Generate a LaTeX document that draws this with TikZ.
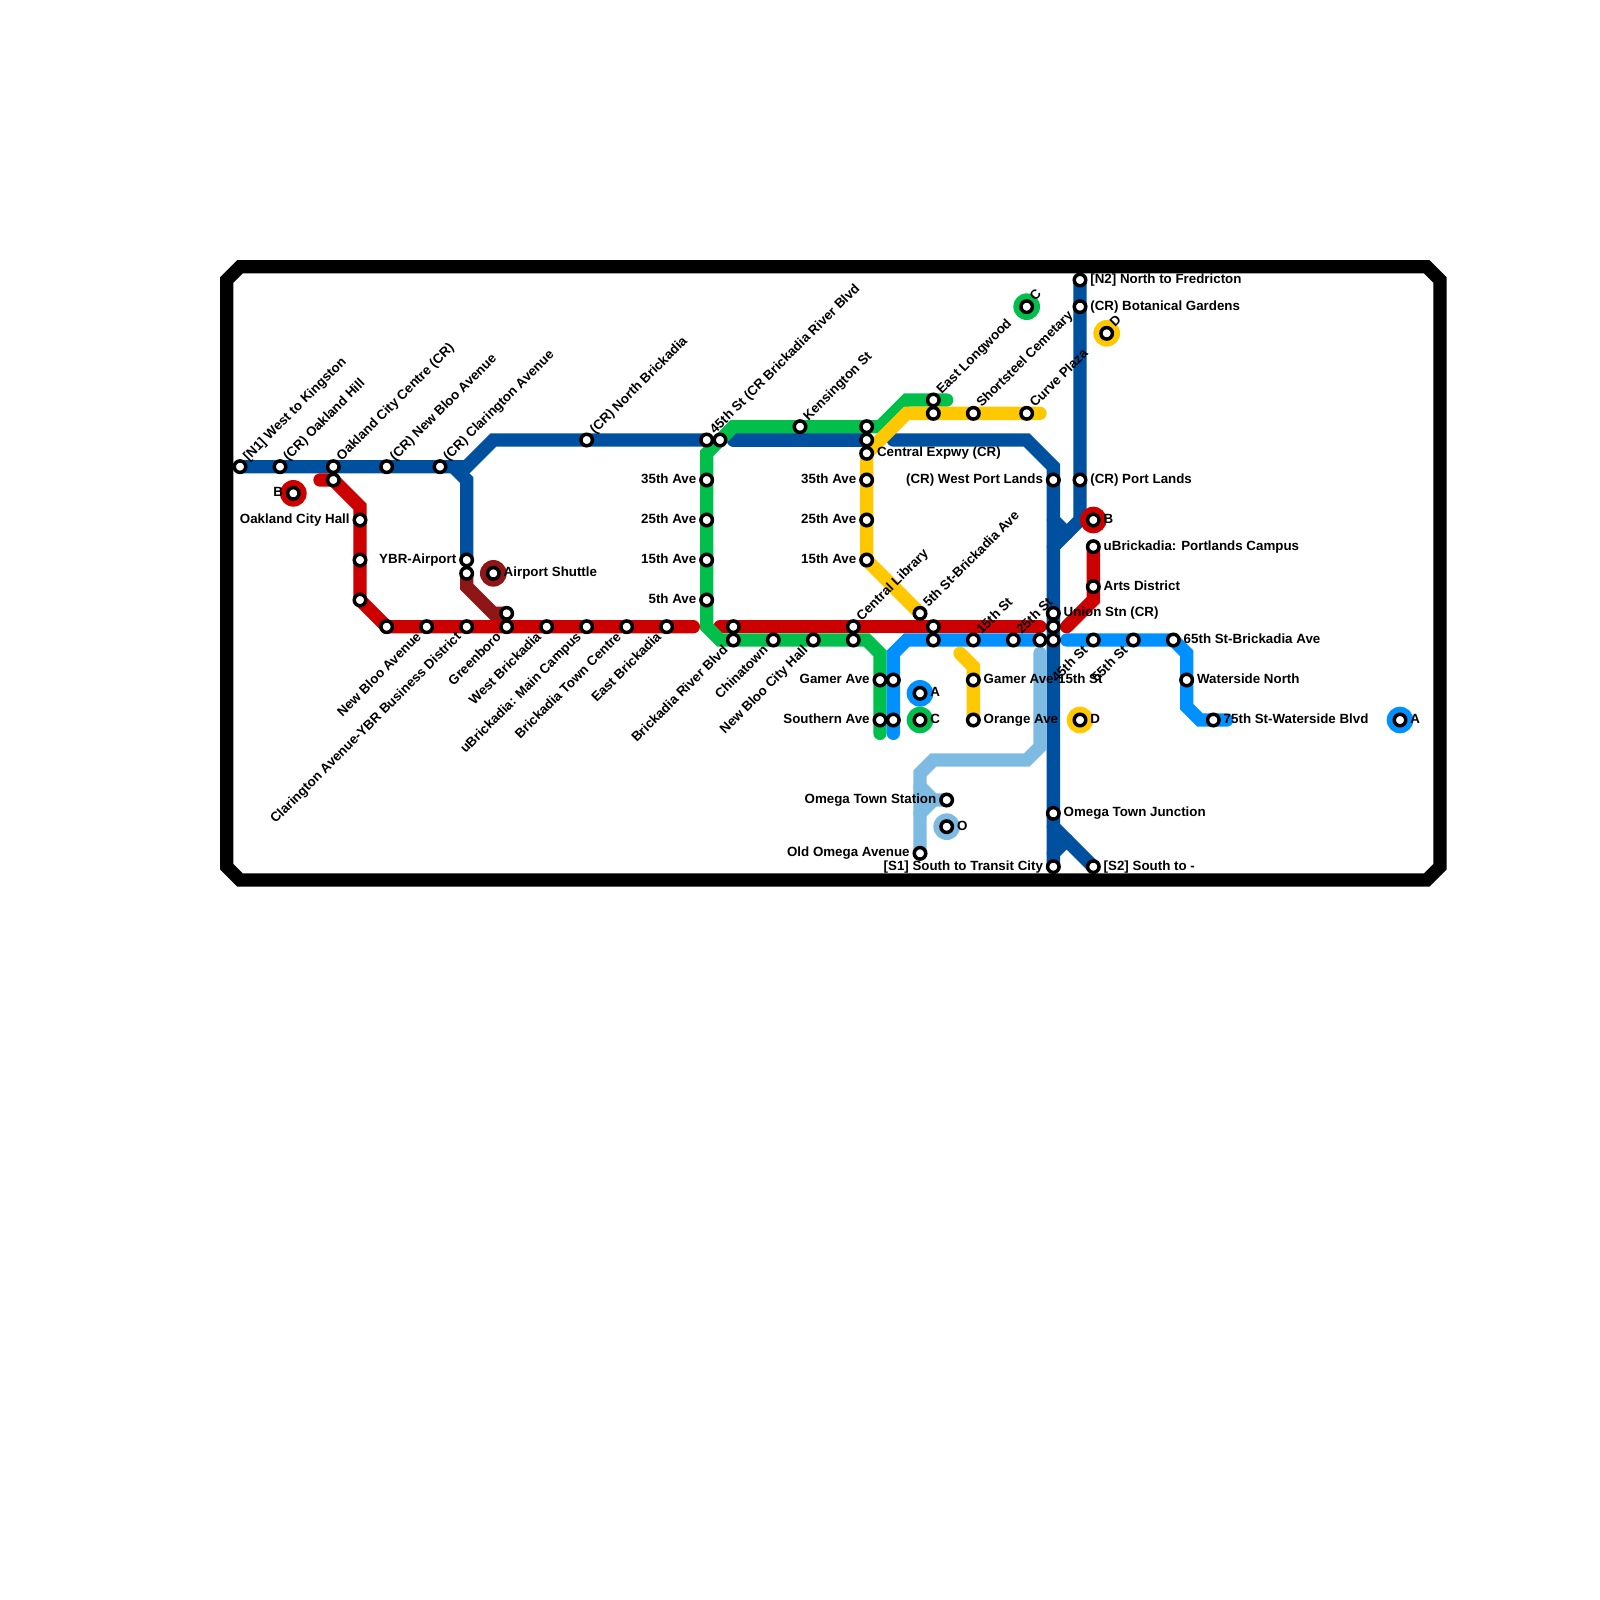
\documentclass[tikz,border=0pt]{standalone}
\usepackage{fontspec}
\setmainfont{Liberation Sans}[BoldFont={Liberation Sans Bold}]
\definecolor{cdb}{HTML}{0050A0}
\definecolor{cred}{HTML}{CC0000}
\definecolor{cdr}{HTML}{8F1616}
\definecolor{cgr}{HTML}{00C04B}
\definecolor{cye}{HTML}{FFC800}
\definecolor{cbb}{HTML}{0090FF}
\definecolor{clb}{HTML}{7DBBE2}
\pgfdeclarelayer{bg}
\pgfsetlayers{bg,main}
\tikzset{
  stn/.style={circle,draw=black,fill=white,line width=1.75pt,minimum size=5.75pt,inner sep=0pt},
  lbl/.style={inner sep=0pt,text height=5pt,text depth=1.5pt,font=\fontsize{6.667}{7.5}\selectfont\bfseries,text=black},
  rline/.style={line width=6.667pt,line cap=round},
  ring/.style={circle,minimum size=13.33pt,inner sep=0pt},
}
% station with no label
\newcommand\ST[2]{\node[stn] (#1) at (#2) {};}
% right, left, up-right, down-left labels
\newcommand\LR[3]{\ST{#1}{#2}\node[lbl,anchor=west,xshift=5pt] (#1l) at (#2) {#3};}
\newcommand\LL[3]{\ST{#1}{#2}\node[lbl,anchor=east,xshift=-5pt] (#1l) at (#2) {#3};}
\newcommand\LU[3]{\ST{#1}{#2}\node[lbl,xshift=2.9pt,yshift=3.8pt,rotate=45,anchor=west] (#1l) at (#2) {#3};}
\newcommand\LD[3]{\ST{#1}{#2}\node[lbl,xshift=-3.5pt,yshift=-4.2pt,rotate=45,anchor=east] (#1l) at (#2) {#3};}
\newcommand\RG[3]{\node[ring,fill=#3] (#1r) at (#2) {};}
\begin{document}
\begin{tikzpicture}[x=6.6667pt,y=-6.6667pt]
\useasboundingbox (0,0) rectangle (120,120);
% stations
\LU{a1}{18,35}{[N1] West to Kingston}
\LU{a2}{21,35}{(CR) Oakland Hill}
\LU{a3}{25,35}{Oakland City Centre (CR)}
\LU{a4}{29,35}{(CR) New Bloo Avenue}
\LU{a5}{33,35}{(CR) Clarington Avenue}
\LU{a6}{44,33}{(CR) North Brickadia}
\LU{a7}{53,33}{45th St (CR Brickadia River Blvd}
\LL{b1}{35,42}{YBR-Airport}
\ST{b2}{35,43}
\ST{b3}{38,46}
\ST{r1}{25,36}
\LL{r2}{27,39}{Oakland City Hall}
\ST{r3}{27,42}
\ST{r4}{27,45}
\ST{r5}{29,47}
\LD{r6}{32,47}{New Bloo Avenue}
\LD{r7}{35,47}{Clarington Avenue-YBR Business District}
\LD{r8}{38,47}{Greenboro}
\LD{r9}{41,47}{West Brickadia}
\LD{r10}{44,47}{uBrickadia: Main Campus}
\LD{r11}{47,47}{Brickadia Town Centre}
\LD{r12}{50,47}{East Brickadia}
\ST{r13}{55,47}
\LU{r14}{64,47}{Central Library}
\ST{r15}{70,47}
\ST{r16}{79,47}
\LR{r17}{82,44}{Arts District}
\LR{r18}{82,41}{uBrickadia: Portlands Campus}
\LL{g1}{53,36}{35th Ave}
\LL{g2}{53,39}{25th Ave}
\LL{g3}{53,42}{15th Ave}
\LL{g4}{53,45}{5th Ave}
\ST{g5}{54,33}
\LU{g6}{60,32}{Kensington St}
\ST{g7}{65,32}
\LU{g8}{70,30}{East Longwood}
\LD{g9}{55,48}{Brickadia River Blvd}
\LD{g10}{58,48}{Chinatown}
\LD{g11}{61,48}{New Bloo City Hall}
\ST{g12}{64,48}
\LL{g13}{66,51}{Gamer Ave}
\LL{g14}{66,54}{Southern Ave}
\ST{y0}{65,33}
\LR{y1}{65,34}{Central Expwy (CR)}
\LL{y2}{65,36}{35th Ave}
\LL{y3}{65,39}{25th Ave}
\LL{y4}{65,42}{15th Ave}
\LU{y5}{69,46}{5th St-Brickadia Ave}
\ST{y6}{70,31}
\LU{y7}{73,31}{Shortsteel Cemetary}
\LU{y8}{77,31}{Curve Plaza}
\LR{y9}{73,51}{Gamer Ave-15th St}
\LR{y10}{73,54}{Orange Ave}
\ST{p1}{67,51}
\ST{p2}{67,54}
\ST{p3}{70,48}
\LU{p4}{73,48}{15th St}
\LU{p5}{76,48}{25th St}
\ST{p6}{78,48}
\ST{p7}{79,48}
\LD{p8}{82,48}{45th St}
\LD{p9}{85,48}{55th St}
\LR{p10}{88,48}{65th St-Brickadia Ave}
\LR{p11}{89,51}{Waterside North}
\LR{p12}{91,54}{75th St-Waterside Blvd}
\LL{o1}{71,60}{Omega Town Station}
\LL{o2}{69,64}{Old Omega Avenue}
\LR{d1}{81,21}{[N2] North to Fredricton}
\LR{d2}{81,23}{(CR) Botanical Gardens}
\LR{d3}{81,36}{(CR) Port Lands}
\LL{d4}{79,36}{(CR) West Port Lands}
\LR{d5}{79,46}{Union Stn (CR)}
\LR{d6}{79,61}{Omega Town Junction}
\LL{d7}{79,65}{[S1] South to Transit City}
\LR{d8}{82,65}{[S2] South to -}
% interchange markers
\LL{x1}{22,37}{B}
\LR{x2}{37,43}{Airport Shuttle}
\LU{x3}{77,23}{C}
\LU{x4}{83,25}{D}
\LR{x5}{82,39}{B}
\LR{x6}{69,52}{A}
\LR{x7}{69,54}{C}
\LR{x8}{71,62}{O}
\LR{x9}{81,54}{D}
\LR{x10}{105,54}{A}
\coordinate (e1) at (24,36);
\coordinate (e2) at (52,47);
\coordinate (e3) at (54,47);
\coordinate (e4) at (78,47);
\coordinate (e5) at (80,47);
\coordinate (e6) at (55,33);
\coordinate (e7) at (67,33);
\coordinate (e8) at (71,30);
\coordinate (e9) at (78,31);
\coordinate (e10) at (72,49);
\coordinate (e11) at (67,55);
\coordinate (e12) at (66,55);
\coordinate (e13) at (78,49);
\coordinate (e14) at (80,48);
\coordinate (e15) at (92,54);
\begin{pgfonlayer}{bg}
\draw[black,line width=6.667pt] (17,21)--(18,20)--(107,20)--(108,21)--(108,65)--(107,66)--(18,66)--(17,65)--cycle;
% dark blue
\draw[rline,cdb] (a1.center)--(a5.center)--(35,35)--(37,33)--(a7.center);
\draw[rline,cdb] (34,35)--(35,36)--(b1.center);
\draw[rline,cdb] (e6)--(y0.center);
\draw[rline,cdb] (e7)--(77,33)--(79,35)--(d7.center);
\draw[rline,cdb] (d1.center)--(81,39)--(79,41);
\draw[rline,cdb] (79,39)--(80,40);
\draw[rline,cdb] (79,62)--(d8.center);
\draw[rline,cdb] (79,64)--(80,63);
% dark red
\draw[rline,cdr] (b2.center)--(35,44)--(37,46)--(b3.center);
% red
\draw[rline,cred] (e1)--(r1.center)--(27,38)--(r4.center)--(r5.center)--(e2);
\draw[rline,cred] (e3)--(e4);
\draw[rline,cred] (e5)--(82,45)--(r18.center);
% green
\draw[rline,cgr] (e8)--(68,30)--(66,32)--(g7.center)--(55,32)--(53,34)--(53,47)--(54,48)--(g12.center)--(65,48)--(66,49)--(e12);
% yellow
\draw[rline,cye] (e9)--(68,31)--(y1.center)--(y4.center)--(y5.center);
\draw[rline,cye] (e10)--(73,50)--(y10.center);
% light blue
\draw[rline,clb] (e13)--(78,56)--(77,57)--(70,57)--(69,58)--(o2.center);
\draw[rline,clb] (69,59)--(70,60)--(o1.center);
\draw[rline,clb] (69,61)--(70,60);
% bright blue
\draw[rline,cbb] (e11)--(67,49)--(68,48)--(p6.center);
\draw[rline,cbb] (e14)--(p10.center)--(89,49)--(89,53)--(90,54)--(e15);
% rings
\RG{x1}{22,37}{cred}
\RG{x2}{37,43}{cdr}
\RG{x3}{77,23}{cgr}
\RG{x4}{83,25}{cye}
\RG{x5}{82,39}{cred}
\RG{x6}{69,52}{cbb}
\RG{x7}{69,54}{cgr}
\RG{x8}{71,62}{clb}
\RG{x9}{81,54}{cye}
\RG{x10}{105,54}{cbb}
\end{pgfonlayer}
\end{tikzpicture}
\end{document}
